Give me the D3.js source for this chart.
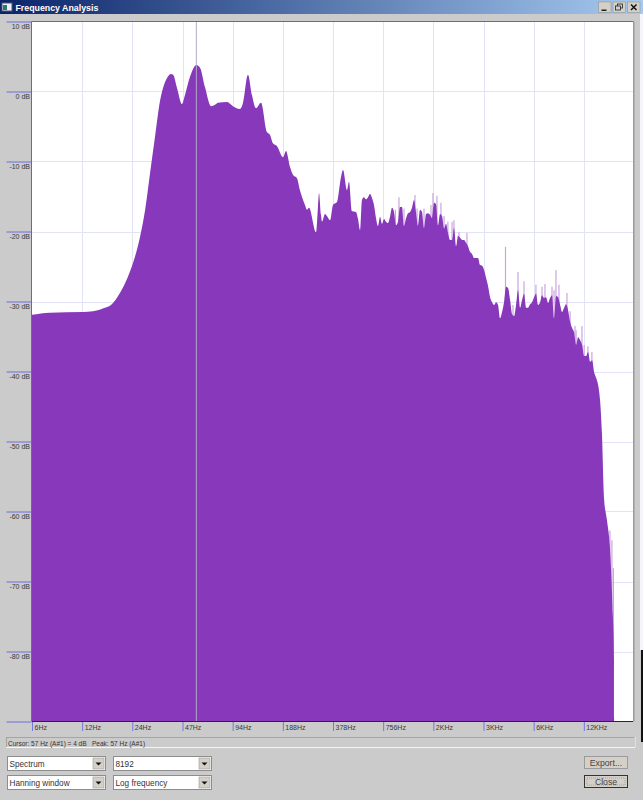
<!DOCTYPE html>
<html><head><meta charset="utf-8">
<style>
html,body{margin:0;padding:0;background:#cbcbcb;overflow:hidden}
svg{display:block}
text{font-family:"Liberation Sans",Arial,sans-serif}
</style>
<script src="https://cdn.jsdelivr.net/npm/d3@7"></script>
</head><body>
<svg id="c" width="643" height="800"></svg>
<script>
const windowTitle = "Frequency Analysis";
const statusText = "Cursor: 57 Hz (A#1) = 4 dB   Peak: 57 Hz (A#1)";
const dbTicks = [10,0,-10,-20,-30,-40,-50,-60,-70,-80,-90];
const dbLabels = ["10 dB","0 dB","-10 dB","-20 dB","-30 dB","-40 dB","-50 dB","-60 dB","-70 dB","-80 dB",""];
const freqTicks = [5.906,11.81,23.62,47.25,94.5,189,378,756,1512,3024,6048,12096];
const freqLabels = ["6Hz","12Hz","24Hz","47Hz","94Hz","188Hz","378Hz","756Hz","2KHz","3KHz","6KHz","12KHz"];
const cursorHz = 57.2;

const freqHz = [5.906,7.57,11.95,13.7,15.7,17.8,19.9,22.2,24.5,26.3,28.2,30.2,32.3,34.6,36.1,38.1,40.3,41.5,43.8,46.9,48.9,52.4,57.2,60.2,64.5,70.1,74,77.2,87.4,94.9,104.5,109,116.8,123.4,130.4,139.8,151.8,158.3,164.9,174.2,189.4,197.4,208.7,217.4,229.8,239.4,256.7,263.9,271.2,298.8,307.1,311.5,320.2,324.7,338.3,347.8,362.7,378,399.5,422.2,434,458.7,471.6,491.4,
519,534,549,564,580,596,613,630,648,666,685,704,724,744,765,786,808,831,854,878,903,928,954,981,1008,
1037,1066,1096,1126,1158,1190,1223,1258,1293,1329,1367,1405,1444,1485,1527,1569,1613,1659,1705,1753,1802,1852,1904,1958,2012,
2070,2128,2188,2248,2311,2375,2441,2511,2581,2653,2729,2804,2882,2964,3048,3132,3220,3311,3403,3499,3597,3697,3800,3908,4016,
4132,4248,4367,4487,4613,4741,4872,5012,5152,5295,5447,5597,5752,5916,6084,6252,6427,6609,6792,6984,7180,7379,7585,7800,8016,
8248,8479,8717,8956,9208,9463,9725,10004,10283,10569,10872,11172,11481,11808,12144,12479,12829,13192,13557,13940,14331,14729,15139,
15531,15967,16644,17345,18071,18338,18400];
const bodyDb = [-31.9,-31.6,-31.5,-31.4,-31,-30.4,-28.8,-26.5,-23.6,-20.7,-16.9,-11.6,-6.5,-1.4,0.5,1.9,2.5,2.4,0.5,-1.8,-0.5,2.1,3.8,3.4,0.6,-2.1,-1.9,-1.6,-1.5,-2.1,-2.5,-1.6,2.4,-0.5,-2.4,-1.6,-5.8,-6.2,-7.4,-7.8,-9.4,-8.5,-10.8,-11.9,-12.4,-14.1,-16.2,-16.9,-16.6,-20.1,-16.5,-14.5,-17.6,-18.6,-17.5,-17.8,-18.4,-16.2,-15.8,-12.2,-11.2,-14.1,-12.9,-17.1,
-17.2,-18.2,-19.8,-15.5,-15.1,-15.4,-15.1,-14.6,-15.2,-16.2,-18.1,-19.2,-17.9,-18.9,-18.2,-18.6,-18.8,-17.9,-16.6,-17.2,-19.1,-18.6,-16.5,-16.5,-19.2,
-18.1,-17.4,-17.2,-16.6,-15.5,-17.2,-19.2,-16.9,-17.2,-19.5,-17.5,-17.4,-17.6,-18.1,-15.9,-16.1,-19.1,-17.5,-17.8,-19.6,-18.9,-20.2,-21.2,-21.2,-19.5,
-22.1,-20.6,-20.9,-21.2,-21.2,-21.6,-22.1,-22.9,-23.2,-23.8,-23.8,-23.8,-24.8,-24.9,-25.5,-26.6,-27.8,-29.4,-30.1,-30.5,-30.1,-30.5,-32.4,-31.5,-30.1,
-27.9,-28.1,-29.8,-31.8,-32.1,-30.5,-28.4,-30.9,-29.8,-28.9,-30.9,-30.9,-30.4,-30.1,-29.4,-28.9,-30.5,-30.1,-29.1,-29.5,-29.4,-30.2,-29.5,-29.1,-32.4,
-29.2,-29.4,-30.5,-31.5,-30.9,-30.4,-31.2,-32.9,-33.8,-34.4,-36.2,-35.1,-35.5,-36.2,-37.8,-37.8,-37.2,-38.6,-38.4,-40.1,-40.9,-41.9,-44.1,
-48.8,-57.9,-61.2,-65.1,-75.1,-81.2,-90];

const spikeHz = [895,940.5,1008,1173,1207,1329,1464,1504,1589,1680,1753,1849,1958,2011,2155,2406,4098,4545,4872,5292,6241,6786,7070,7790,8016,8231,8576,9580,10004,10705,10872,11788,12144,12798,13523,17345,17830,18200];
const spikeDb = [-16.9,-15.1,-16.7,-14.8,-16.7,-16.7,-16.2,-14.5,-14.9,-15.9,-17.8,-18.6,-18.6,-18.4,-20.1,-20.2,-22.2,-30.5,-25.8,-27.1,-27.6,-27.9,-27.5,-27.9,-28.4,-25.5,-27.6,-28.8,-31.4,-33.5,-34.1,-33.5,-36.2,-36.4,-37.2,-62.7,-64.1,-68.1];

const W=643,H=800;
const plot={l:32,r:633,t:21.5,b:721.5};
const x=d3.scaleLog().base(2).domain([5.906,23860]).range([plot.l,plot.r]);
const y=d3.scaleLinear().domain([10,-90]).range([plot.t,plot.b]);
const svg=d3.select("#c");
const defs=svg.append("defs");
const g=defs.append("linearGradient").attr("id","tb");
g.append("stop").attr("offset","0").attr("stop-color","#0a246a");
g.append("stop").attr("offset","1").attr("stop-color","#a6caf0");

svg.append("rect").attr("width",W).attr("height",H).attr("fill","#cbcbcb");
svg.append("rect").attr("x",640).attr("y",14).attr("width",3).attr("height",636).attr("fill","#f4f6fb");
svg.append("rect").attr("x",641).attr("y",650).attr("width",2).attr("height",92).attr("fill","#111");
svg.append("rect").attr("width",W).attr("height",14).attr("fill","url(#tb)");
const icon=svg.append("g");
icon.append("rect").attr("x",2).attr("y",3).attr("width",10).attr("height",8).attr("fill","#e8f0f0").attr("stroke","#557");
icon.append("rect").attr("x",3).attr("y",5).attr("width",4).attr("height",5).attr("fill","#2a7a70");
svg.append("text").attr("x",15.5).attr("y",11).attr("fill","#fff").attr("font-weight","bold").attr("font-size",8.8).text(windowTitle);
[["min",598.5],["max",613],["close",627.5]].forEach(([k,bx])=>{
  const b=svg.append("g").attr("transform",`translate(${bx},2)`);
  b.append("rect").attr("width",12.5).attr("height",10.5).attr("fill","#d4d0c8").attr("stroke","#8a8a8a").attr("stroke-width",.5);
  if(k==="min")b.append("rect").attr("x",3).attr("y",7.5).attr("width",5).attr("height",1.5).attr("fill","#222");
  if(k==="max"){b.append("rect").attr("x",4.5).attr("y",2).attr("width",5).attr("height",4).attr("fill","none").attr("stroke","#222").attr("stroke-width",.8);
    b.append("rect").attr("x",2.5).attr("y",4).attr("width",5).attr("height",4).attr("fill","#d4d0c8").attr("stroke","#222").attr("stroke-width",.8);}
  if(k==="close")b.append("path").attr("d","M3.5 2.5L9 8M9 2.5L3.5 8").attr("stroke","#111").attr("stroke-width",1.5);
});

svg.append("rect").attr("x",plot.l).attr("y",plot.t).attr("width",plot.r-plot.l).attr("height",plot.b-plot.t).attr("fill","#fff");
const gridColor="#e3e3f7";
svg.append("g").selectAll("line").data(dbTicks.slice(1,-1)).join("line")
  .attr("x1",plot.l).attr("x2",plot.r).attr("y1",d=>Math.round(y(d))+.5).attr("y2",d=>Math.round(y(d))+.5).attr("stroke",gridColor);
svg.append("g").selectAll("line").data(freqTicks.slice(1)).join("line")
  .attr("y1",plot.t).attr("y2",plot.b).attr("x1",d=>Math.round(x(d))+.5).attr("x2",d=>Math.round(x(d))+.5).attr("stroke",gridColor);

svg.append("g").selectAll("line").data(spikeHz).join("line")
  .attr("x1",d=>x(d)).attr("x2",d=>x(d))
  .attr("y1",(d,i)=>y(spikeDb[i])).attr("y2",(d,i)=>y(Math.max(spikeDb[i]-14,-89)))
  .attr("stroke","#c9a5de").attr("stroke-width",1.2);
const pts=freqHz.map((f,i)=>[f,bodyDb[i]]);
const area=d3.area().x(d=>x(d[0])).y0(y(-90)).y1(d=>y(d[1])).curve(d3.curveMonotoneX);
svg.append("path").datum(pts).attr("d",area).attr("fill","#8838ba");

svg.append("line").attr("x1",x(cursorHz)).attr("x2",x(cursorHz)).attr("y1",plot.t).attr("y2",plot.b)
  .attr("stroke","#b3abc4").attr("stroke-width",1);

svg.append("path").attr("d",`M${plot.l-.5} ${plot.b}V${plot.t}H${plot.r+.5}`).attr("fill","none").attr("stroke","#6d6d78").attr("stroke-width",1);
svg.append("rect").attr("x",plot.r).attr("y",plot.t).attr("width",1.5).attr("height",plot.b-plot.t).attr("fill","#9a9a9a");

const yAxis=d3.axisLeft(y).tickValues(dbTicks).tickSize(25).tickFormat((d,i)=>dbLabels[i]);
const ya=svg.append("g").attr("transform",`translate(${plot.l-.5},0)`).call(yAxis);
ya.select(".domain").remove();
ya.selectAll("line").attr("stroke","#6f6fe0");
ya.selectAll("text").attr("x",-1.5).attr("dy",0).attr("y",7).attr("text-anchor","end").attr("font-size",7).attr("fill","#3a3a3a").style("font-family",'"Liberation Sans"');

const xAxis=d3.axisBottom(x).tickValues(freqTicks).tickSize(10).tickFormat((d,i)=>freqLabels[i]);
const xa=svg.append("g").attr("transform",`translate(0,${plot.b-.5})`).call(xAxis);
xa.select(".domain").remove();
xa.selectAll("line").attr("stroke","#7676e0");
xa.selectAll("text").attr("x",2).attr("y",5).attr("dy",".5em").attr("text-anchor","start").attr("font-size",7).attr("fill","#3a3a3a").style("font-family",'"Liberation Sans"');
svg.append("line").attr("x1",plot.l).attr("x2",plot.r).attr("y1",plot.b).attr("y2",plot.b).attr("stroke","#2c2048");

svg.append("rect").attr("x",6.5).attr("y",737.5).attr("width",628).attr("height",10).attr("fill","#cbcbcb").attr("stroke","#9c9c9c").attr("stroke-width",.8);
svg.append("path").attr("d","M6 747.5H635V737").attr("fill","none").attr("stroke","#f4f4f4");
svg.append("text").attr("x",8).attr("y",745.5).attr("font-size",6.5).attr("fill","#333").style("white-space","pre").text(statusText);

function combo(cx,cy,w,label){
  const c=svg.append("g").attr("transform",`translate(${cx},${cy})`);
  c.append("rect").attr("x",.5).attr("y",.5).attr("width",w).attr("height",14).attr("fill","#fff").attr("stroke","#8d8d8d");
  c.append("rect").attr("x",w-12).attr("y",2).attr("width",11).attr("height",11).attr("fill","#d4d0c8").attr("stroke","#9a9a9a").attr("stroke-width",.6);
  c.append("path").attr("d",`M${w-9.5} 6.5h6l-3 3z`).attr("fill","#111");
  c.append("text").attr("x",2.5).attr("y",11).attr("font-size",8.2).attr("fill","#333").text(label);
}
const comboRows=[[7,756,98,"Spectrum"],[113,756,98,"8192"],[7,775,98,"Hanning window"],[113,775,98,"Log frequency"]];
comboRows.forEach(r=>combo(...r));
function button(by,label,strong){
  const b=svg.append("g").attr("transform",`translate(584.5,${by})`);
  b.append("rect").attr("width",43).attr("height",12).attr("fill","#d4d0c8").attr("stroke",strong?"#333":"#8f8f8f").attr("stroke-width",strong?1:.8);
  if(strong)b.append("rect").attr("x",2.5).attr("y",2.5).attr("width",38).attr("height",7).attr("fill","none").attr("stroke","#777").attr("stroke-dasharray","1 1").attr("stroke-width",.5);
  b.append("text").attr("x",21.5).attr("y",9).attr("text-anchor","middle").attr("font-size",8.7).attr("fill","#444").text(label);
}
button(756.5,"Export...",false);
button(775.5,"Close",true);
</script>
</body></html>
